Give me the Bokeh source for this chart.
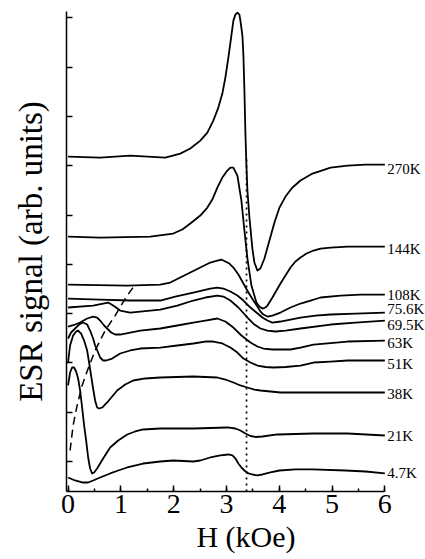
from bokeh.plotting import figure
from bokeh.models import Range1d, SingleIntervalTicker, CustomJSTickFormatter, ColumnDataSource
from bokeh.core.properties import value
from bokeh.embed import file_html
from bokeh.resources import INLINE

# ---- data: H (kOe) and ESR signal (arb. units, with vertical offsets) ----
h_270 = [0.0, 0.607, 1.176, 1.841, 2.125, 2.315, 2.505, 2.638, 2.751, 2.846, 2.922, 2.979, 3.036, 3.093,
         3.131, 3.169, 3.207, 3.245, 3.264, 3.302, 3.321, 3.340, 3.359, 3.378, 3.397, 3.435, 3.491, 3.529,
         3.586, 3.643, 3.719, 3.814, 3.909, 4.004, 4.118, 4.250, 4.402, 4.630, 4.972, 5.294, 5.636, 6.0]
s_270 = [6.187, 6.166, 6.207, 6.166, 6.247, 6.349, 6.511, 6.673, 6.917, 7.181, 7.465, 7.789, 8.195, 8.641,
         8.945, 9.067, 9.108, 9.067, 8.945, 8.641, 8.235, 7.525, 6.653, 6.004, 5.497, 4.949, 4.320, 4.037,
         3.874, 3.915, 4.118, 4.483, 4.848, 5.152, 5.375, 5.558, 5.700, 5.842, 5.963, 6.004, 6.024, 6.024]

h_144 = [0.0, 0.607, 1.556, 1.992, 2.163, 2.315, 2.505, 2.638, 2.732, 2.827, 2.922, 3.017, 3.074, 3.131,
         3.207, 3.283, 3.340, 3.397, 3.473, 3.567, 3.624, 3.681, 3.738, 3.776, 3.871, 3.947, 4.023, 4.118,
         4.213, 4.307, 4.402, 4.516, 4.649, 4.782, 4.972, 5.294, 6.0]
s_144 = [4.564, 4.544, 4.564, 4.625, 4.706, 4.828, 4.990, 5.152, 5.314, 5.558, 5.761, 5.903, 5.963, 5.963,
         5.801, 5.294, 4.686, 4.118, 3.570, 3.225, 3.144, 3.103, 3.124, 3.164, 3.327, 3.469, 3.611, 3.773,
         3.935, 4.057, 4.138, 4.219, 4.280, 4.320, 4.341, 4.361, 4.361]

h_108 = [0.0, 1.120, 1.746, 1.935, 2.125, 2.315, 2.505, 2.694, 2.827, 2.903, 2.979, 3.055, 3.131, 3.226,
         3.321, 3.416, 3.510, 3.586, 3.643, 3.700, 3.776, 3.871, 4.023, 4.213, 4.402, 4.592, 4.782, 5.161,
         5.541, 6.0]
s_108 = [3.590, 3.570, 3.590, 3.631, 3.732, 3.834, 3.935, 4.037, 4.077, 4.097, 4.057, 4.016, 3.935, 3.793,
         3.611, 3.428, 3.266, 3.144, 3.043, 2.982, 2.941, 2.961, 3.022, 3.124, 3.205, 3.266, 3.327, 3.367,
         3.387, 3.387]

h_756 = [0.0, 0.607, 1.176, 1.746, 2.030, 2.372, 2.694, 2.827, 2.941, 3.074, 3.207, 3.321, 3.454, 3.567,
         3.681, 3.776, 3.871, 4.023, 4.213, 4.402, 4.687, 4.972, 5.446, 6.0]
s_756 = [3.306, 3.286, 3.266, 3.266, 3.347, 3.428, 3.509, 3.529, 3.509, 3.448, 3.367, 3.266, 3.124, 3.022,
         2.921, 2.860, 2.819, 2.840, 2.880, 2.921, 2.961, 2.982, 3.002, 3.022]

h_695 = [0.0, 0.474, 0.664, 0.759, 0.854, 0.987, 1.176, 1.746, 2.068, 2.372, 2.600, 2.827, 2.941, 3.074,
         3.226, 3.397, 3.529, 3.643, 3.776, 3.928, 4.118, 4.402, 4.972, 5.446, 6.0]
s_695 = [3.124, 3.164, 3.205, 3.225, 3.164, 3.063, 3.022, 3.083, 3.164, 3.266, 3.327, 3.367, 3.347, 3.266,
         3.124, 2.921, 2.779, 2.698, 2.657, 2.637, 2.657, 2.698, 2.779, 2.819, 2.860]

h_63 = [0.0, 0.133, 0.228, 0.361, 0.474, 0.550, 0.607, 0.683, 0.740, 0.816, 0.892, 0.987, 1.082, 1.366,
        1.746, 2.068, 2.372, 2.600, 2.827, 2.979, 3.131, 3.283, 3.454, 3.586, 3.700, 3.871, 4.213, 4.402,
        4.649, 5.294, 6.0]
s_63 = [2.738, 2.779, 2.819, 2.901, 2.941, 2.921, 2.860, 2.759, 2.698, 2.617, 2.576, 2.576, 2.596, 2.657,
        2.698, 2.759, 2.819, 2.860, 2.901, 2.840, 2.718, 2.556, 2.414, 2.333, 2.292, 2.272, 2.272, 2.312,
        2.373, 2.434, 2.454]

h_51 = [0.0, 0.057, 0.133, 0.209, 0.285, 0.361, 0.417, 0.474, 0.512, 0.569, 0.607, 0.664, 0.721, 0.835,
        0.987, 1.176, 1.366, 1.746, 2.068, 2.372, 2.600, 2.751, 2.922, 3.074, 3.207, 3.321, 3.454, 3.586,
        3.738, 3.890, 4.118, 4.402, 4.649, 4.972, 5.294, 6.0]
s_51 = [2.495, 2.617, 2.698, 2.779, 2.819, 2.779, 2.657, 2.495, 2.353, 2.211, 2.110, 2.049, 2.049, 2.089,
        2.191, 2.252, 2.292, 2.312, 2.353, 2.394, 2.434, 2.434, 2.394, 2.312, 2.211, 2.089, 2.008, 1.947,
        1.917, 1.907, 1.917, 1.947, 2.008, 2.028, 2.049, 2.049]

h_38 = [0.0, 0.038, 0.095, 0.152, 0.190, 0.247, 0.304, 0.361, 0.398, 0.436, 0.474, 0.512, 0.550, 0.588,
        0.645, 0.740, 0.835, 0.930, 1.082, 1.233, 1.461, 1.746, 2.372, 2.827, 2.979, 3.131, 3.264, 3.397,
        3.529, 3.643, 4.023, 6.0]
s_38 = [2.008, 2.353, 2.556, 2.637, 2.657, 2.596, 2.454, 2.252, 2.008, 1.744, 1.481, 1.237, 1.095, 1.075,
        1.095, 1.197, 1.318, 1.440, 1.562, 1.643, 1.684, 1.704, 1.724, 1.704, 1.663, 1.602, 1.542, 1.501,
        1.460, 1.440, 1.400, 1.400]

h_21 = [0.0, 0.038, 0.076, 0.114, 0.152, 0.190, 0.228, 0.266, 0.304, 0.342, 0.380, 0.417, 0.455, 0.493,
        0.550, 0.664, 0.797, 0.949, 1.120, 1.271, 1.423, 1.746, 2.372, 3.017, 3.169, 3.264, 3.359, 3.454,
        3.548, 3.681, 3.966, 4.649, 5.294, 6.0]
s_21 = [1.542, 1.805, 1.907, 1.907, 1.826, 1.684, 1.440, 1.095, 0.730, 0.426, 0.081, -0.142, -0.243, -0.223,
        -0.142, 0.061, 0.284, 0.426, 0.548, 0.609, 0.649, 0.669, 0.669, 0.690, 0.669, 0.629, 0.568, 0.517,
        0.497, 0.507, 0.548, 0.568, 0.568, 0.527]

h_47 = [0.0, 0.133, 0.266, 0.380, 0.474, 0.607, 0.797, 0.949, 1.120, 1.423, 1.746, 1.992, 2.372, 2.505,
        2.694, 2.884, 3.036, 3.112, 3.169, 3.226, 3.283, 3.340, 3.416, 3.491, 3.586, 3.681, 3.833, 4.004,
        4.307, 4.630, 5.256, 5.636, 6.0]
s_47 = [-0.325, -0.385, -0.426, -0.426, -0.385, -0.325, -0.243, -0.183, -0.122, -0.041, 0.0, 0.020, 0.0,
        0.020, 0.081, 0.122, 0.142, 0.122, 0.061, -0.041, -0.122, -0.183, -0.243, -0.264, -0.284, -0.264,
        -0.223, -0.183, -0.162, -0.162, -0.183, -0.203, -0.243]

curves_h = [h_270, h_144, h_108, h_756, h_695, h_63, h_51, h_38, h_21, h_47]
curves_s = [s_270, s_144, s_108, s_756, s_695, s_63, s_51, s_38, s_21, s_47]

labels = ["270K", "144K", "108K", "75.6K", "69.5K", "63K", "51K", "38K", "21K", "4.7K"]
label_s = [5.943, 4.320, 3.387, 3.103, 2.779, 2.394, 1.968, 1.379, 0.507, -0.243]

# dashed guide through the low-field resonances
dash_h = [0.038, 0.095, 0.171, 0.266, 0.380, 0.512, 0.702, 0.892, 1.082, 1.271]
dash_s = [0.223, 0.730, 1.136, 1.542, 1.886, 2.252, 2.657, 2.961, 3.306, 3.590]

# dotted line at the paramagnetic resonance field
res_h = 3.38
res_s_top = 6.15

FONT = "Liberation Serif"
X0, X1 = -0.03, 6.77
Y0, Y1 = -0.609, 9.13

p = figure(width=425, height=559, output_backend="svg", toolbar_location=None,
           x_range=Range1d(X0, X1), y_range=Range1d(Y0, Y1),
           min_border_left=66, min_border_right=0, min_border_top=11, min_border_bottom=68)
p.grid.visible = False
p.outline_line_color = None
p.background_fill_color = "white"
p.border_fill_color = "white"

for hh, ss in zip(curves_h, curves_s):
    p.line(hh, ss, line_color="black", line_width=1.8, line_join="round")

p.line(dash_h, dash_s, line_color="black", line_width=1.5, line_dash="8 5")
p.line([res_h, res_h], [Y0, res_s_top], line_color="black", line_width=1.7, line_dash="2 4")

src = ColumnDataSource(dict(x=[6.045] * len(labels), y=label_s, t=labels))
p.text(x="x", y="y", text="t", source=src, text_font=value(FONT), text_font_size="15px",
       text_align="left", text_baseline="middle", text_color="black")

xa = p.xaxis[0]
xa.ticker = SingleIntervalTicker(interval=1, num_minor_ticks=2)
xa.bounds = (X0, 6)
xa.axis_label = "H (kOe)"
xa.axis_label_text_font = FONT
xa.axis_label_text_font_style = "normal"
xa.axis_label_text_font_size = "30px"
xa.axis_label_standoff = 4
xa.major_label_text_font = FONT
xa.major_label_text_font_size = "28px"
xa.major_label_standoff = 3

ya = p.yaxis[0]
ya.ticker = SingleIntervalTicker(interval=1, num_minor_ticks=0)
ya.formatter = CustomJSTickFormatter(code="return ''")
ya.axis_label = "ESR signal (arb. units)"
ya.axis_label_text_font = FONT
ya.axis_label_text_font_style = "normal"
ya.axis_label_text_font_size = "33px"
ya.axis_label_standoff = 18
ya.major_label_standoff = 0

for ax in (xa, ya):
    ax.axis_line_color = "black"
    ax.axis_line_width = 1.5
    ax.major_tick_line_color = "black"
    ax.major_tick_line_width = 1.5
    ax.major_tick_in = 6
    ax.major_tick_out = 0
    ax.minor_tick_line_color = "black"
    ax.minor_tick_line_width = 1.5
    ax.minor_tick_in = 3
    ax.minor_tick_out = 0
    ax.major_label_text_color = "black"
    ax.axis_label_text_color = "black"

open("out.html", "w").write(file_html(p, INLINE))
